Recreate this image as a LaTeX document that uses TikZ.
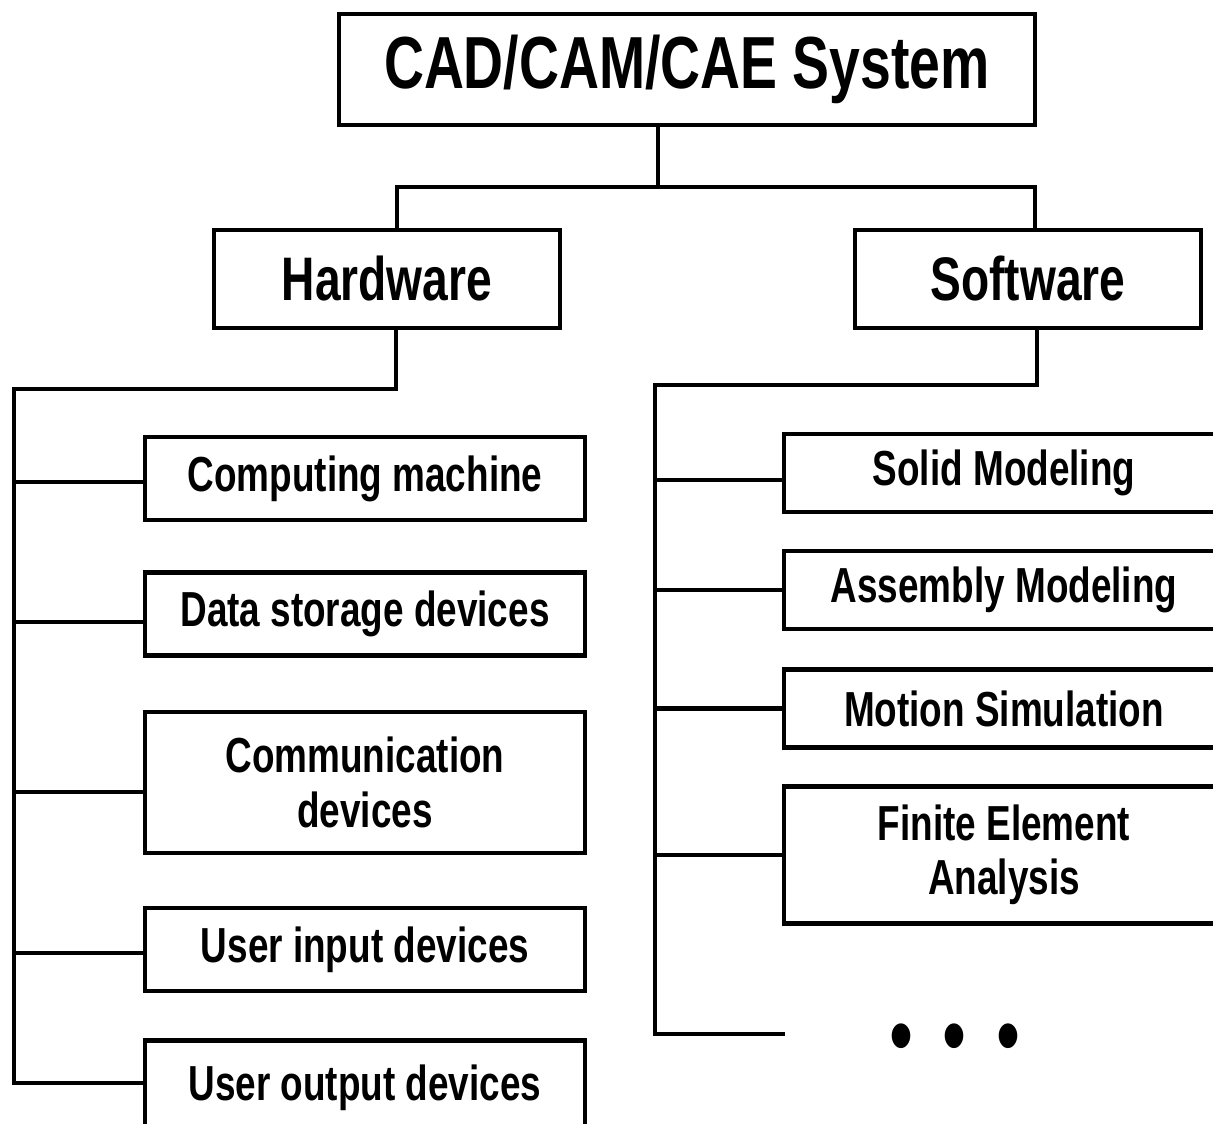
\documentclass[tikz,border=0pt]{standalone}
\usepackage{fontspec}
\setmainfont{Liberation Sans}[FakeStretch=0.75]
\usepackage{tikz}
\usetikzlibrary{positioning}

\begin{document}
\begin{tikzpicture}
    [line/.style={draw=black, line width=2.4pt}, font=\bfseries]
    % Define styles for the boxes
    \tikzstyle{block} = [draw, fill=white, rectangle, line width=2.4pt, inner sep=0pt, align=center]
    \tikzstyle{group} = [block, minimum width=6.92cm, minimum height=1.96cm, font=\bfseries\fontsize{35}{40}\selectfont]
    \tikzstyle{item} = [block, minimum width=8.80cm, minimum height=1.66cm, font=\bfseries\fontsize{28}{31}\selectfont]
    \tikzstyle{sitem} = [item, minimum height=1.56cm]

    % Page size, boxes on the right and at the bottom run off it
    \useasboundingbox (0,0) rectangle (24.26,-22.46);
    \clip (0,0) rectangle (24.26,-22.46);

    % Nodes placement
    \node [block, minimum width=13.92cm, minimum height=2.22cm, font=\bfseries\fontsize{42}{48}\selectfont] (system) at (13.74,-1.39) {CAD/CAM/CAE System};
    \node [group] (hardware) at (7.74,-5.58) {Hardware};
    \node [group, right of=hardware, node distance=12.82cm] (software) {Software};

    \node [item] (computing) at (7.30,-9.57) {Computing machine};
    \node [item, below of=computing, node distance=2.71cm] (storage) {Data storage devices};
    \node [item, minimum height=2.82cm, below of=storage, node distance=3.37cm] (comm) {Communication\\devices};
    \node [item, below of=comm, node distance=3.34cm] (userin) {User input devices};
    \node [item, minimum height=1.90cm, below of=userin, node distance=2.77cm] (userout) {User output devices};

    \node [sitem] (solid) at (20.08,-9.46) {Solid Modeling};
    \node [sitem, below of=solid, node distance=2.34cm] (assembly) {Assembly Modeling};
    \node [sitem, below of=assembly, node distance=2.37cm] (motion) {Motion Simulation};
    \node [sitem, minimum height=2.74cm, below of=motion, node distance=2.93cm] (fea) {Finite Element\\Analysis};
    \node [font=\fontsize{52}{52}\selectfont] (dots) at (19.10,-20.90) {•\hspace{17pt}•\hspace{17pt}•};

    \coordinate (hwtrunk) at (0.28,-7.78);
    \coordinate (hwend) at ([yshift=1mm]userout.west);
    \coordinate (swtrunk) at (13.10,-7.70);
    \coordinate (swend) at (15.70,-20.68);

    % Draw edges
    \draw[line] ([xshift=-5.8mm]system.south) -- ++(0,-1.2) coordinate (split);
    \draw[line] ([xshift=2mm]hardware.north) |- (split) -| ([xshift=1.4mm]software.north);

    % Hardware trunk and its branches
    \draw[line] ([xshift=1.8mm]hardware.south) |- (hwtrunk) -- (hwtrunk |- hwend) -- (hwend);
    \foreach \n/\dy in {computing/-0.7mm, storage/-1.6mm, comm/-1.9mm, userin/-0.7mm}
        \draw[line] ([yshift=\dy]\n.west) -| (hwtrunk);

    % Software trunk and its branches
    \draw[line] ([xshift=1.8mm]software.south) |- (swtrunk) -- (swtrunk |- swend) -- (swend);
    \foreach \n/\dy in {solid/-1.4mm, assembly/0mm, motion/0mm, fea/0mm}
        \draw[line] ([yshift=\dy]\n.west) -| (swtrunk);
\end{tikzpicture}
\end{document}
